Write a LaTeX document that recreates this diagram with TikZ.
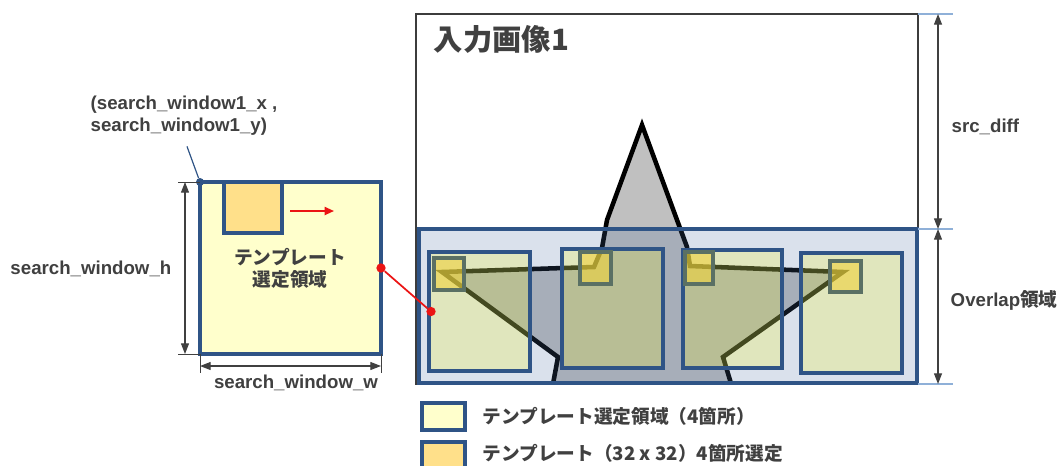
\documentclass[tikz,border=0pt]{standalone}
\usepackage{fontspec}
\setmainfont{Liberation Sans}
\newfontfamily\jpfont{Noto Sans CJK JP}
\usetikzlibrary{positioning,arrows.meta,fit,calc}

\definecolor{txtgray}{RGB}{64,64,64}
\definecolor{imgedge}{RGB}{60,60,60}
\definecolor{winblue}{RGB}{47,84,134}
\definecolor{winfill}{HTML}{FFFFCC}
\definecolor{tplfill}{HTML}{FFE08A}
\definecolor{ovlblue}{RGB}{70,105,160}
\definecolor{regyellow}{RGB}{244,246,32}
\definecolor{starfill}{HTML}{C0C0C0}
\definecolor{dimblue}{RGB}{143,176,216}
\definecolor{tplsmall}{RGB}{240,210,60}
\definecolor{tplborder}{RGB}{90,112,100}
\definecolor{markred}{RGB}{235,20,20}

\begin{document}
\begin{tikzpicture}[
  x=0.75pt, y=-0.75pt,
  font=\fontsize{14}{16.5}\selectfont\bfseries,
  text=txtgray,
  imgbox/.style={draw=imgedge, line width=2.2pt, inner sep=0pt, outer sep=0pt},
  ovlbox/.style={draw=winblue, line width=2.3pt, fill=ovlblue, fill opacity=0.2,
                 inner sep=0pt, outer sep=0pt},
  regbox/.style={draw=winblue, line width=2.7pt, fill=regyellow, fill opacity=0.23,
                 inner sep=0pt, outer sep=0pt},
  tplsbox/.style={draw=tplborder, line width=2.3pt, fill=tplsmall, fill opacity=0.6,
                  inner sep=0pt, outer sep=0pt},
  winbox/.style={draw=winblue, line width=2.3pt, fill=winfill, inner sep=0pt, outer sep=0pt},
  tplbox/.style={draw=winblue, line width=2.3pt, fill=tplfill, inner sep=0pt, outer sep=0pt},
  starline/.style={draw=black, line width=3.4pt, fill=starfill, line join=miter},
  dimarrow/.style={{Triangle[length=8pt,width=6pt]}-{Triangle[length=8pt,width=6pt]},
                   draw=txtgray, line width=0.8pt},
  extline/.style={draw=txtgray, line width=0.6pt},
  extblue/.style={draw=dimblue, line width=0.8pt},
  redarrow/.style={-{Triangle[length=7pt,width=6pt]}, draw=markred, line width=1.4pt},
  redline/.style={draw=markred, line width=1.3pt},
  reddot/.style={circle, fill=markred, inner sep=0pt, minimum size=7pt},
  bluedot/.style={circle, fill=winblue, inner sep=0pt, minimum size=6pt},
  jplbl/.style={font=\jpfont\fontsize{14}{16.5}\selectfont\bfseries},
]
\useasboundingbox (0,0) rectangle (1062,465);

% input image with the star
\node[imgbox, fit={(416,14) (918,384)}] (img) {};
\node[jplbl, font=\jpfont\fontsize{22}{25}\selectfont\bfseries, anchor=west] (title) at (429,39) {入力画像1};
\begin{scope}
  \clip (416,14) rectangle (918,384);
  \draw[starline] (642,125) -- (677,220) -- (687,247) -- (690,266) -- (843,272)
    -- (723,357) -- (736,400) -- (550,400) -- (558,357) -- (442,272)
    -- (594,267) -- (602,248) -- (607,220) -- cycle;
\end{scope}

% overlap area and the 4 template regions
\node[ovlbox, fit={(419,229) (917,383)}] (ovl) {};
\node[regbox, fit={(429,252) (530,371)}] (reg1) {};
\node[regbox, fit={(562,249) (663,368)}] (reg2) {};
\node[regbox, fit={(683,250) (782,368)}] (reg3) {};
\node[regbox, fit={(801,253) (902,373)}] (reg4) {};

\node[tplsbox, fit={(434,258) (464,290)}] (tpl1) {};
\node[tplsbox, fit={(580,252) (611,284)}] (tpl2) {};
\node[tplsbox, fit={(685,252) (713,284)}] (tpl3) {};
\node[tplsbox, fit={(830,261) (861,292)}] (tpl4) {};

% search window
\node[winbox, fit={(200,182) (381,354)}] (win) {};
\node[tplbox, fit={(224,182) (282,233)}] (wtpl) {};
\node[jplbl, align=center] (wlbl) at (290,268) {テンプレート\\選定領域};
\coordinate (mvS) at (290,211);
\coordinate (mvE) at (334,211);
\draw[redarrow] (mvS) -- (mvE);

\node[bluedot] (corner) at (win.north west) {};
\node[align=left, anchor=west] (cornerlbl) at (86,116) {(search\_window1\_x ,\\search\_window1\_y)};
\draw[winblue, line width=0.9pt] ($(cornerlbl.south west)+(101,6)$) -- (corner);

\node[reddot] (rdA) at (win.east) {};
\node[reddot] (rdB) at ($(reg1.west)+(2,0)$) {};
\draw[redline] (rdA) -- (rdB);

% search window sizes
\coordinate (hT) at (185,182);
\coordinate (hB) at (185,354);
\draw[extline] (178,182) -- (win.north west);
\draw[extline] (178,354) -- (win.south west);
\draw[dimarrow] (hT) -- (hB);
\node[anchor=east] (hlbl) at (176,269) {search\_window\_h};

\coordinate (wL) at (200,366);
\coordinate (wR) at (381,366);
\draw[extline] (win.south west) -- (200,373);
\draw[extline] (win.south east) -- (381,373);
\draw[dimarrow] (wL) -- (wR);
\node (wlbl2) at (296,383) {search\_window\_w};

% src_diff / overlap sizes
\draw[extblue] (918,14) -- (953,14);
\draw[extblue] (918,229) -- (953,229);
\draw[extblue] (918,384) -- (953,384);
\coordinate (dT) at (938,14);
\coordinate (dM) at (938,229);
\coordinate (dB) at (938,384);
\draw[dimarrow] (dT) -- (dM);
\draw[dimarrow] (dM) -- (dB);
\node[anchor=west] (difflbl) at (947,127) {src\_diff};
\node[anchor=west] (ovllbl) at (946,300) {Overlap{\jpfont 領域}};

% legend
\node[winbox, fit={(422,403) (465,430)}] (key1) {};
\node[tplbox, fit={(422,442) (465,470)}] (key2) {};
\node[jplbl, anchor=west] (key1lbl) at (478,416) {テンプレート選定領域（4箇所）};
\node[jplbl, anchor=west] (key2lbl) at (478,453) {テンプレート（32 x 32）4箇所選定};
\end{tikzpicture}
\end{document}
